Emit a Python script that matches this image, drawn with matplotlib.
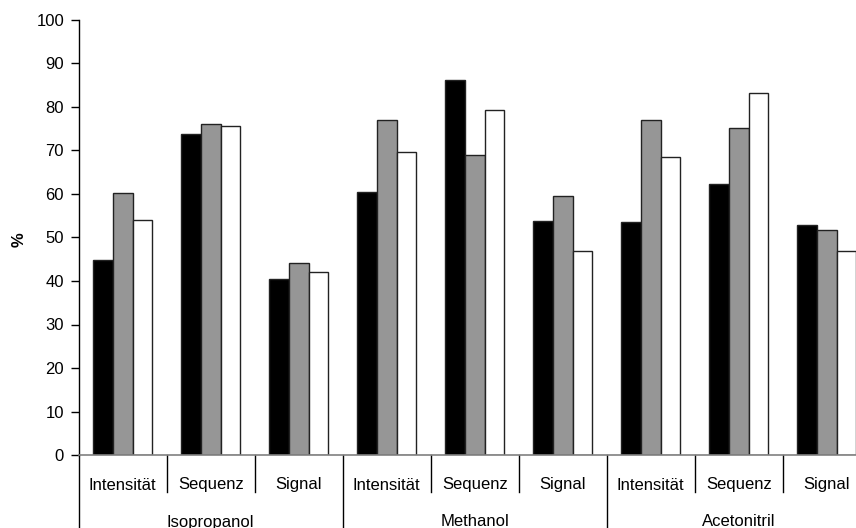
import matplotlib
matplotlib.use("Agg")
import matplotlib.pyplot as plt
import numpy as np
from matplotlib.transforms import blended_transform_factory

plt.rcParams['font.family'] = ['Liberation Sans', 'DejaVu Sans']

groups = ["Isopropanol", "Methanol", "Acetonitril"]
subcats = ["Intensität", "Sequenz", "Signal"]
series_black = [44.8, 73.9, 40.5, 60.5, 86.1, 53.9, 53.6, 62.4, 52.9]
series_gray = [60.2, 76.0, 44.1, 76.9, 69.0, 59.5, 76.9, 75.1, 51.7]
series_white = [54.1, 75.7, 42.1, 69.6, 79.4, 46.9, 68.4, 83.3, 46.8]
yticks = list(range(0, 101, 10))

W, H = 856, 528
fig = plt.figure(figsize=(W / 100, H / 100), dpi=100)
left_px, right_px, top_px, bottom_px = 78.7, 870.7, 20.0, 455.0
ax = fig.add_axes([left_px / W, 1 - bottom_px / H, (right_px - left_px) / W, (bottom_px - top_px) / H])

n = len(series_black)
x = np.arange(n) + 0.5
bw = 0.225
ec = '#222222'
ax.bar(x - bw, series_black, bw, color='black', edgecolor=ec, linewidth=1.0, zorder=2)
ax.bar(x, series_gray, bw, color='#969696', edgecolor=ec, linewidth=1.0, zorder=2)
ax.bar(x + bw, series_white, bw, color='white', edgecolor=ec, linewidth=1.0, zorder=2)

ax.set_xlim(0, n)
ax.set_ylim(0, 100)
ax.set_yticks(yticks)
ax.tick_params(axis='y', direction='out', length=6, width=1, labelsize=12, pad=4.5, colors='black')
ax.set_xticks([])
for s in ['top', 'right']:
    ax.spines[s].set_visible(False)
ax.spines['bottom'].set_color('#808080')
ax.spines['bottom'].set_linewidth(1.2)
ax.spines['left'].set_linewidth(1.0)
ax.spines['left'].set_color('black')

fig.text(19.5 / W, 1 - 240.0 / H, '%', rotation=90, ha='center', va='center',
         fontsize=12, fontweight='bold')

trans = blended_transform_factory(ax.transData, ax.transAxes)
ax_h = bottom_px - top_px
small_drop = 36.7 / ax_h
big_drop = (H - bottom_px + 2) / ax_h

# subcategory labels
for i in range(n):
    ax.text(x[i], -(489.5 - bottom_px) / ax_h, subcats[i % 3], transform=trans,
            ha='center', va='baseline', fontsize=12)
# separators
for b in range(0, n + 1):
    if b % 3 == 0:
        ax.plot([b, b], [0, -big_drop], transform=trans, color='black', lw=1.0, clip_on=False)
    else:
        ax.plot([b, b], [0, -small_drop], transform=trans, color='black', lw=1.0, clip_on=False)
# group labels
for g, name in enumerate(groups):
    ax.text(3 * g + 1.5, -(526.5 - bottom_px) / ax_h, name, transform=trans,
            ha='center', va='baseline', fontsize=12)

fig.savefig('out.png', dpi=100)
